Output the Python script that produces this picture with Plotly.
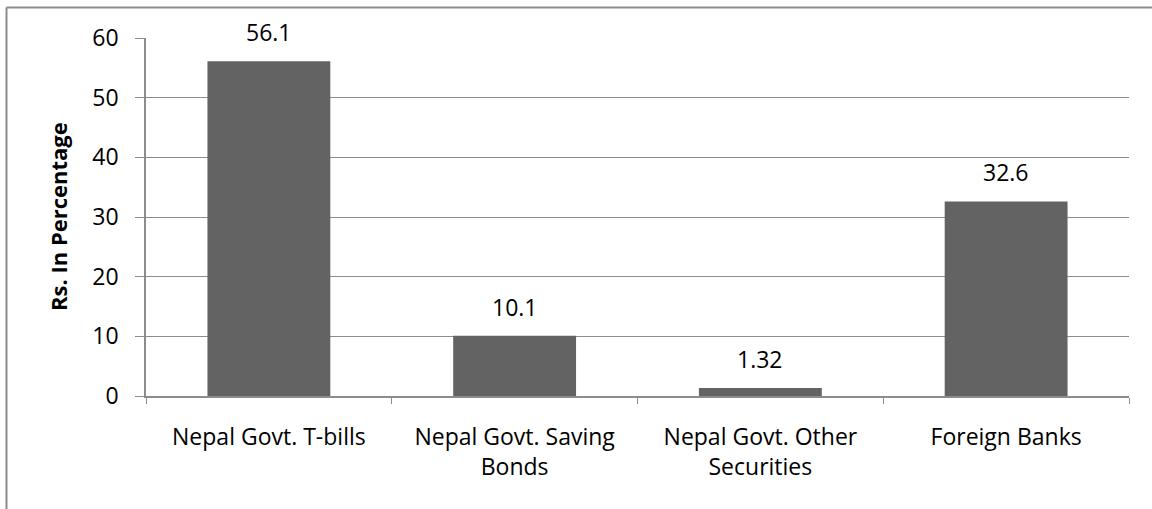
import plotly.graph_objects as go

categories = ["Nepal Govt. T-bills", "Nepal Govt. Saving<br>Bonds",
              "Nepal Govt. Other<br>Securities", "Foreign Banks"]
values = [56.1, 10.1, 1.32, 32.6]
labels = ["56.1", "10.1", "1.32", "32.6"]

W, H = 1152, 509
L, R, T, B = 146, 23, 38, 113
pw, ph = W - L - R, H - T - B

def px(x):
    return (x - L) / pw

def py(y):
    return (H - B - y) / ph

font = "Open Sans, Noto Sans, sans-serif"
FS = 23

fig = go.Figure(go.Bar(
    x=categories, y=values,
    marker=dict(color="#636363", line=dict(width=0)),
    cliponaxis=False,
))

annotations = [
    dict(x=c, y=v, text=t, xref="x", yref="y", showarrow=False,
         yanchor="bottom", yshift=11, font=dict(family=font, size=FS, color="#000"))
    for c, v, t in zip(categories, values, labels)
]
annotations.append(dict(
    x=px(58), y=0.5, xref="paper", yref="paper", showarrow=False,
    text="<b>Rs. In Percentage</b>", textangle=-90, xanchor="center", yanchor="middle",
    font=dict(family=font, size=22, color="#000")))

fig.update_layout(
    width=W, height=H,
    margin=dict(l=L, r=R, t=T, b=B),
    paper_bgcolor="white", plot_bgcolor="white",
    bargap=0.5, showlegend=False,
    font=dict(family=font, size=FS, color="#000000"),
    xaxis=dict(showline=True, linecolor="#8c8c8c", linewidth=1.5,
               ticks="outside", tickson="boundaries", ticklen=6,
               tickcolor="#8c8c8c", tickfont=dict(size=FS, color="#000"),
               ticklabelstandoff=20),
    yaxis=dict(range=[0, 60], dtick=10, showgrid=True, gridcolor="#8c8c8c",
               gridwidth=1, showline=True, linecolor="#8c8c8c", linewidth=1.5,
               ticks="outside", ticklen=9, tickcolor="#8c8c8c", zeroline=False,
               tickfont=dict(size=FS, color="#000"), ticklabelstandoff=12),
    annotations=annotations,
    shapes=[
        dict(type="line", xref="paper", yref="paper",
             x0=px(6.5), x1=px(1152), y0=py(7.5), y1=py(7.5),
             line=dict(color="#8c8c8c", width=2)),
        dict(type="line", xref="paper", yref="paper",
             x0=px(6.5), x1=px(6.5), y0=py(7.5), y1=py(509),
             line=dict(color="#8c8c8c", width=2)),
    ],
)

fig.write_html("out.html")
